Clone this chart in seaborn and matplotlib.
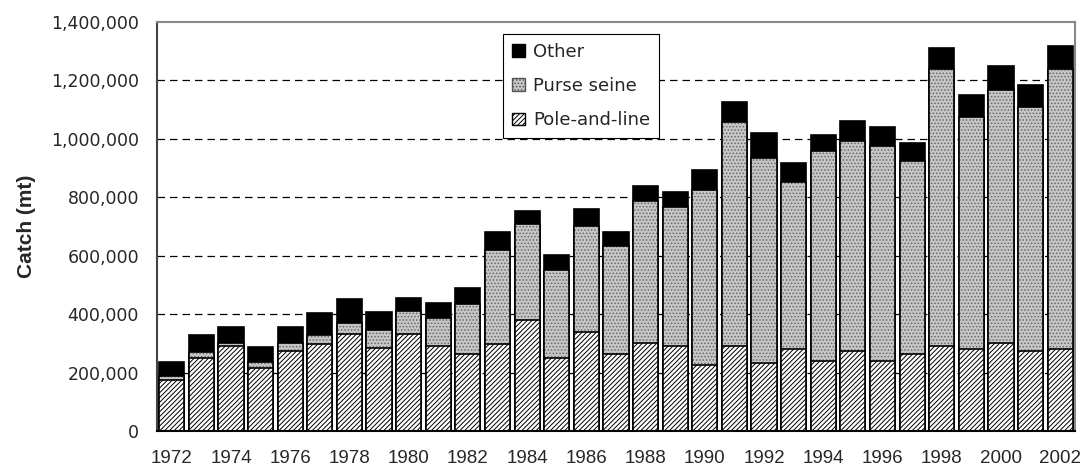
import matplotlib
matplotlib.use("Agg")
import matplotlib.pyplot as plt
from matplotlib import ticker
from matplotlib.patches import Patch
import pandas as pd
import seaborn as sns

# catch by gear, metric tonnes
years = list(range(1972, 2003))
pole_and_line = [175000, 250000, 291000, 216000, 274000, 298000, 332000, 284000, 332000, 291000,
                 262000, 298000, 380000, 250000, 339000, 263000, 301000, 291000, 226000, 291000,
                 233000, 281000, 240000, 274000, 240000, 263000, 291000, 281000, 301000, 274000,
                 281000]
purse_seine = [13000, 20000, 10000, 20000, 27000, 31000, 38000, 62000, 79000, 96000,
               173000, 322000, 328000, 301000, 363000, 370000, 486000, 475000, 598000, 766000,
               701000, 571000, 718000, 719000, 736000, 661000, 948000, 794000, 866000, 835000,
               958000]
other = [48000, 59000, 55000, 52000, 55000, 75000, 82000, 61000, 44000, 51000,
         54000, 61000, 45000, 51000, 57000, 48000, 52000, 51000, 69000, 69000,
         86000, 65000, 55000, 68000, 65000, 62000, 72000, 75000, 82000, 75000,
         79000]
y_ticks = [0, 200000, 400000, 600000, 800000, 1000000, 1200000, 1400000]

df = pd.DataFrame({
    "year": [str(y) for y in years],
    "pole": pole_and_line,
    "purse": purse_seine,
    "other": other,
})
df["pole_purse"] = df["pole"] + df["purse"]
df["total"] = df["pole_purse"] + df["other"]

sns.set_style("white")
plt.rcParams["font.family"] = ["Liberation Sans", "DejaVu Sans"]
plt.rcParams["hatch.linewidth"] = 0.7

fig = plt.figure(figsize=(10.84, 4.66), dpi=100)
ax = fig.add_axes([0.1448, 0.0751, 0.8469, 0.8777])

for y in y_ticks[1:-1]:
    ax.axhline(y, color="black", linestyle=(0, (6, 4)), linewidth=0.9, zorder=0)

common = dict(x="year", ax=ax, width=0.85, saturation=1, errorbar=None, zorder=2)
# stacked by overdrawing: total first, then the lower parts on top
sns.barplot(data=df, y="total", color="black", edgecolor="black", linewidth=1.2, **common)
sns.barplot(data=df, y="pole_purse", color="#c6c6c6", edgecolor="#686868",
            hatch=".....", linewidth=0, **common)
sns.barplot(data=df, y="pole_purse", fill=False, color="black", edgecolor="black",
            linewidth=1.2, **common)
sns.barplot(data=df, y="pole", color="white", edgecolor="black", hatch="///////",
            linewidth=1.2, **common)

ax.set_ylim(0, 1400000)
ax.set_xlim(-0.5, len(years) - 0.5)
ax.set_yticks(y_ticks)
ax.yaxis.set_major_formatter(ticker.FuncFormatter(lambda v, _: f"{int(v):,}"))
ax.set_xticks(range(0, len(years), 2))
ax.set_xticklabels([str(y) for y in years[::2]])
ax.tick_params(axis="y", length=0, pad=13)
ax.tick_params(axis="x", labelsize=13.5, length=0, pad=14)
for lab in ax.get_yticklabels():
    lab.set_family("DejaVu Sans")
    lab.set_fontsize(12.5)
ax.set_xlabel("")
ax.set_ylabel("Catch (mt)", fontsize=15, fontweight="bold", labelpad=11)

for side in ["top", "right"]:
    ax.spines[side].set_color("#888888")
    ax.spines[side].set_linewidth(1.5)
ax.spines["left"].set_color("#444444")
ax.spines["left"].set_linewidth(1.5)
ax.spines["bottom"].set_color("black")
ax.spines["bottom"].set_linewidth(1.5)

handles = [
    Patch(facecolor="black", edgecolor="black", label="Other"),
    Patch(facecolor="#c6c6c6", edgecolor="#555555", hatch=".....", label="Purse seine"),
    Patch(facecolor="white", edgecolor="black", hatch="///////", label="Pole-and-line"),
]
leg = ax.legend(handles=handles, loc="upper left", bbox_to_anchor=(0.377, 0.971),
                prop={"family": "DejaVu Sans", "size": 13}, handlelength=0.7,
                handleheight=0.7, handletextpad=0.45, labelspacing=0.9, borderpad=0.5,
                borderaxespad=0, fancybox=False, framealpha=1, edgecolor="black")
leg.get_frame().set_linewidth(0.8)

fig.savefig("out.png", dpi=100)
